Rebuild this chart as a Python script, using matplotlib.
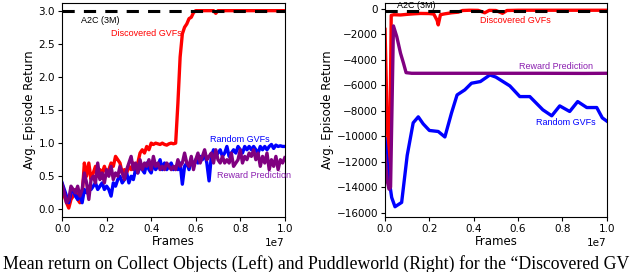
import numpy as np
import matplotlib
matplotlib.use("Agg")
import matplotlib.pyplot as plt

# ---- Collect Objects (left) ----
frames_left = np.arange(0, 101) * 1e5

random_left = [0.4, 0.3, 0.2, 0.1, 0.25, 0.3, 0.2, 0.15, 0.25, 0.1,
               0.3, 0.25, 0.35, 0.3, 0.35, 0.4, 0.3, 0.35, 0.4, 0.3,
               0.35, 0.3, 0.2, 0.4, 0.35, 0.45, 0.5, 0.4, 0.45, 0.55,
               0.4, 0.5, 0.45, 0.6, 0.55, 0.65, 0.6, 0.55, 0.7, 0.6,
               0.55, 0.7, 0.6, 0.65, 0.75, 0.6, 0.7, 0.6, 0.65, 0.7,
               0.6, 0.65, 0.6, 0.7, 0.38, 0.65, 0.7, 0.6, 0.75, 0.65,
               0.75, 0.7, 0.8, 0.75, 0.85, 0.7, 0.43, 0.8, 0.9, 0.8,
               0.85, 0.9, 0.8, 0.85, 0.95, 0.8, 0.85, 0.9, 0.85, 0.95,
               0.9, 0.85, 0.95, 0.9, 0.95, 0.9, 0.95, 0.9, 0.85, 0.95,
               0.9, 0.95, 0.9, 0.95, 0.98, 0.92, 0.97, 0.95, 0.96, 0.95,
               0.95]

reward_left = [0.38, 0.25, 0.1, 0.15, 0.35, 0.3, 0.25, 0.35, 0.2, 0.3,
               0.55, 0.4, 0.15, 0.45, 0.5, 0.4, 0.7, 0.45, 0.55, 0.4,
               0.6, 0.5, 0.65, 0.45, 0.55, 0.5, 0.65, 0.55, 0.45, 0.6,
               0.7, 0.8, 0.6, 0.7, 0.55, 0.75, 0.6, 0.7, 0.65, 0.75,
               0.6, 0.8, 0.65, 0.7, 0.6, 0.65, 0.6, 0.7, 0.65, 0.6,
               0.65, 0.6, 0.75, 0.65, 0.7, 0.85, 0.7, 0.65, 0.8, 0.6,
               0.75, 0.85, 0.7, 0.8, 0.9, 0.75, 0.8, 0.85, 0.7, 0.9,
               0.75, 0.7, 0.8, 0.7, 0.75, 0.7, 0.85, 0.65, 0.7, 0.75,
               0.9, 0.7, 0.8, 0.75, 0.85, 0.8, 0.9, 0.75, 0.85, 0.65,
               0.8, 0.7, 0.85, 0.6, 0.75, 0.65, 0.8, 0.6, 0.75, 0.7,
               0.78]

discovered_left = [0.35, 0.2, 0.1, 0.02, 0.15, 0.2, 0.3, 0.15, 0.1, 0.2,
                   0.7, 0.5, 0.7, 0.45, 0.55, 0.65, 0.5, 0.6, 0.55, 0.65,
                   0.55, 0.6, 0.7, 0.65, 0.8, 0.75, 0.7, 0.55, 0.6, 0.55,
                   0.65, 0.6, 0.7, 0.65, 0.7, 0.85, 0.9, 0.85, 0.95, 0.9,
                   1.0, 0.98, 1.0, 0.99, 0.98, 1.0, 0.98, 0.97, 0.99, 1.0,
                   0.99, 1.0, 1.6, 2.3, 2.65, 2.75, 2.8, 2.88, 2.9, 2.97,
                   3.0, 3.0, 3.0, 3.0, 3.0, 3.0, 3.0, 3.0, 3.0, 2.96,
                   3.0, 3.0, 3.0, 3.0, 3.0, 3.0, 3.0, 3.0, 3.0, 3.0,
                   3.0, 3.0, 3.0, 3.0, 3.0, 3.0, 3.0, 3.0, 3.0, 3.0,
                   3.0, 3.0, 3.0, 3.0, 3.0, 3.0, 3.0, 3.0, 3.0, 3.0,
                   3.0]
a2c_left = 3.0

# ---- Puddleworld (right) ----
frames_disc_r = [0, 0.01, 0.02, 0.028, 0.04, 0.07, 0.1, 0.13, 0.16, 0.2, 0.22,
                 0.235, 0.24, 0.25, 0.27, 0.3, 0.33, 0.35, 0.38, 0.42, 0.45,
                 0.47, 0.5, 0.53, 0.55, 0.6, 0.7, 0.8, 0.9, 1.0]
discovered_right = [-1600, -9000, -13000, -500, -450, -470, -420, -380, -350,
                    -360, -400, -900, -1250, -450, -380, -300, -250, -120,
                    -100, -110, -300, -110, -120, -340, -120, -100, -100,
                    -100, -100, -100]

frames_rand_r = [0, 0.015, 0.03, 0.045, 0.075, 0.1, 0.127, 0.15, 0.172, 0.2,
                 0.24, 0.27, 0.3, 0.325, 0.36, 0.39, 0.43, 0.473, 0.5, 0.563,
                 0.608, 0.653, 0.712, 0.752, 0.788, 0.833, 0.869, 0.91, 0.955,
                 0.98, 1.0]
random_right = [-10200, -13000, -14800, -15530, -15190, -11500, -8940, -8470,
                -9020, -9540, -9620, -10050, -8160, -6750, -6350, -5830, -5700,
                -5180, -5350, -6040, -6880, -6880, -7920, -8390, -7610, -8050,
                -7270, -7740, -7740, -8550, -8800]

frames_rew_r = [0, 0.01, 0.018, 0.025, 0.038, 0.053, 0.07, 0.083, 0.095, 0.12,
                0.3, 0.5, 0.7, 0.9, 1.0]
reward_right = [-11500, -13500, -14150, -14000, -1330, -2170, -3480, -4240,
                -5000, -5050, -5050, -5050, -5050, -5060, -5050]
a2c_right = -150

fig = plt.figure(figsize=(6.4, 2.72), dpi=100)
axL = fig.add_axes([0.097, 0.202, 0.348, 0.787])
axR = fig.add_axes([0.6016, 0.202, 0.3464, 0.787])

lw = 2.4
axL.plot(frames_left, discovered_left, color="red", lw=lw)
axL.plot(frames_left, random_left, color="blue", lw=lw)
axL.plot(frames_left, reward_left, color="purple", lw=lw)
axL.axhline(a2c_left, color="black", lw=2.2, ls=(0, (4, 3)))
axL.set_xlim(0, 1e7)
axL.set_ylim(-0.116, 3.116)

axR.plot(np.array(frames_disc_r) * 1e7, discovered_right, color="red", lw=lw)
axR.plot(np.array(frames_rand_r) * 1e7, random_right, color="blue", lw=lw)
axR.plot(np.array(frames_rew_r) * 1e7, reward_right, color="purple", lw=lw)
axR.axhline(a2c_right, color="black", lw=2.2, ls=(0, (4, 3)))
axR.set_xlim(0, 1e7)
axR.set_ylim(-16340, 470)
axR.set_yticks(np.arange(-16000, 1, 2000))

for ax in (axL, axR):
    ax.set_xlabel("Frames", fontsize=8.5, labelpad=1)
    ax.set_ylabel("Avg. Episode Return", fontsize=8.5, labelpad=2)
    ax.tick_params(labelsize=7.5, length=3, pad=2)
    ax.xaxis.get_offset_text().set_fontsize(7.5)

ann = dict(fontsize=6.5, family="Liberation Sans", va="center")
axL.text(0.085e7, 2.845, "A2C (3M)", color="black", **ann)
axL.text(0.22e7, 2.66, "Discovered GVFs", color="red", **ann)
axL.text(0.664e7, 1.06, "Random GVFs", color="blue", **ann)
axL.text(0.695e7, 0.51, "Reward Prediction", color="#8b1fb0", **ann)

axR.text(0.054e7, 300, "A2C (3M)", color="black", **ann)
axR.text(0.428e7, -920, "Discovered GVFs", color="red", **ann)
axR.text(0.605e7, -4520, "Reward Prediction", color="#8b1fb0", **ann)
axR.text(0.683e7, -8920, "Random GVFs", color="blue", **ann)

# caption strip under the panels (only the visible part of the line)
fig.text(0.004, 1 - 268.5 / 272,
         "Mean return on Collect Objects (Left) and Puddleworld (Right) for the \u201cDiscovered GV",
         fontsize=12.8, family="Liberation Serif", va="baseline", ha="left")

fig.savefig("out.png", dpi=100)
